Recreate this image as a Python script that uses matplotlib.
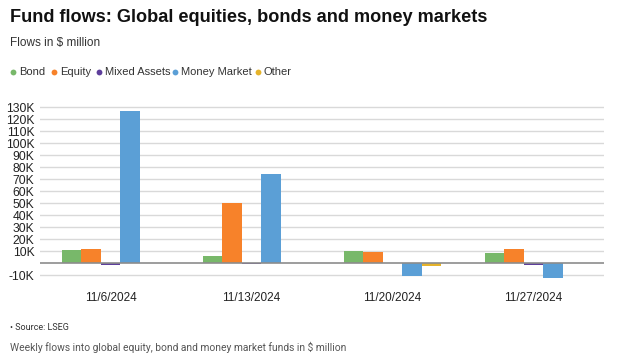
import matplotlib
matplotlib.use("Agg")
import matplotlib.pyplot as plt
from matplotlib.lines import Line2D
import numpy as np

dates = ["11/6/2024", "11/13/2024", "11/20/2024", "11/27/2024"]
series_names = ["Bond", "Equity", "Mixed Assets", "Money Market", "Other"]
bond = [10800, 5500, 10000, 8300]
equity = [11500, 49700, 9000, 12000]
mixed = [-1500, -500, -300, -1500]
money = [127000, 74000, -10500, -12500]
other = [300, 200, -2200, 200]
yticks = list(range(-10000, 130001, 10000))
colors = ["#78b86a", "#f7822a", "#5e3f9c", "#5b9fd6", "#e5b32b"]

plt.rcParams['font.family'] = ['Liberation Sans', 'DejaVu Sans']

fig = plt.figure(figsize=(6.19, 3.61), dpi=100)
ax = fig.add_axes([40/619, 1-279.8/361, 564/619, (279.8-103.4)/361])

data = [bond, equity, mixed, money, other]
x = np.arange(len(dates))
w = 0.139
for i, (vals, c) in enumerate(zip(data, colors)):
    ax.bar(x + (i - 2) * w, vals, width=w, color=c, zorder=3)

ax.set_xlim(-0.5, len(dates) - 0.5)
ax.set_ylim(-14000, 133000)
ax.set_yticks(yticks)
ax.set_yticklabels([("%dK" % (t // 1000)) if t != 0 else "" for t in yticks], fontsize=8.7, color="#222222")
for t in yticks:
    if t != 0:
        ax.axhline(t, color="#d9d9d9", lw=1, zorder=1)
ax.axhline(0, color="#8c8c8c", lw=1.2, zorder=4)
ax.set_xticks(x)
ax.set_xticklabels(dates, fontsize=8.5, color="#222222")
ax.tick_params(axis="both", length=0)
ax.tick_params(axis="x", pad=9)
ax.tick_params(axis="y", pad=4)
for s in ax.spines.values():
    s.set_visible(False)

fig.text(10/619, 1-18/361, "Fund flows: Global equities, bonds and money markets", fontsize=13.1, fontweight="bold", color="#111111", va="center", ha="left")
fig.text(10/619, 1-43/361, "Flows in $ million", fontsize=8.5, color="#333333", va="center", ha="left")

# legend
leg_x = [13, 54, 99, 175, 258]
for lx, name, c in zip(leg_x, series_names, colors):
    fig.add_artist(Line2D([lx/619], [1-72/361], marker="o", markersize=4.2, color=c,
                          markeredgewidth=0, linestyle="none", transform=fig.transFigure))
    fig.text((lx+6)/619, 1-72/361, name, fontsize=8, color="#333333", va="center", ha="left")

fig.text(10/619, 1-328/361, "\u2022 Source: LSEG", fontsize=6.5, color="#333333", va="center", ha="left", family=["Roboto", "DejaVu Sans"])
fig.text(10/619, 1-347/361, "Weekly flows into global equity, bond and money market funds in $ million", fontsize=7.4, color="#555555", va="center", ha="left", family=["Roboto", "DejaVu Sans"])

fig.savefig("out.png", dpi=100)
